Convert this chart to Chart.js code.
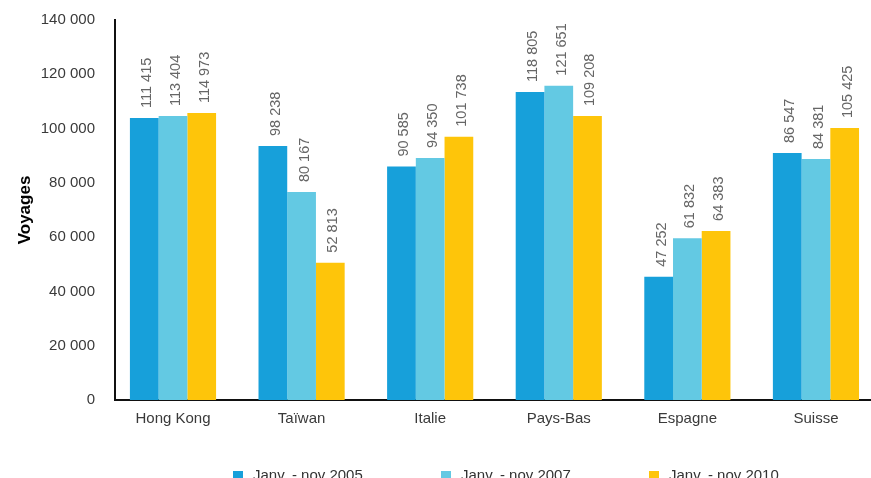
<!DOCTYPE html>
<html>
<head>
<meta charset="utf-8">
<script src="https://cdn.jsdelivr.net/npm/chart.js@4"></script>
<style>
  body { margin: 0; background: #fff; overflow: hidden; }
</style>
</head>
<body>
<canvas id="myChart" width="871" height="478"></canvas>
<script>
'use strict';

// pays
let countries = ['Hong Kong', 'Taïwan', 'Italie', 'Pays-Bas', 'Espagne', 'Suisse'];

// hauteur des barres
let bars2005 = [103900, 93600, 86000, 113500, 45400, 91000];
let bars2007 = [104600, 76600, 89200, 115800, 59600, 88800];
let bars2010 = [105700, 50600, 97000, 104600, 62300, 100200];

// valeurs affichées au-dessus des barres
let labels2005 = [111415, 98238, 90585, 118805, 47252, 86547];
let labels2007 = [113404, 80167, 94350, 121651, 61832, 84381];
let labels2010 = [114973, 52813, 101738, 109208, 64383, 105425];

let seriesNames = ['Janv. - nov 2005', 'Janv. - nov 2007', 'Janv. - nov 2010'];
let seriesColors = ['#17a0da', '#63c9e3', '#fec50a'];

let yTicks = [0, 20000, 40000, 60000, 80000, 100000, 120000, 140000];

let allLabels = [labels2005, labels2007, labels2010];

function spaced(n) {
  return n.toString().replace(/\B(?=(\d{3})+(?!\d))/g, ' ');
}

const font = '"Liberation Sans", Arial, sans-serif';

// chiffres verticaux au-dessus des barres
const valueLabels = {
  id: 'valueLabels',
  afterDatasetsDraw(chart) {
    let ctx = chart.ctx;
    ctx.save();
    ctx.font = '14.5px ' + font;
    ctx.fillStyle = '#666';
    ctx.textAlign = 'left';
    ctx.textBaseline = 'middle';
    chart.data.datasets.forEach((ds, d) => {
      let meta = chart.getDatasetMeta(d);
      meta.data.forEach((bar, i) => {
        ctx.save();
        ctx.translate(bar.x + 3, bar.y - 10);
        ctx.rotate(-Math.PI / 2);
        ctx.fillText(spaced(allLabels[d][i]), 0, 0);
        ctx.restore();
      });
    });
    ctx.restore();
  }
};

// légende en bas (coupée par le bord de l'image)
const bottomLegend = {
  id: 'bottomLegend',
  afterDraw(chart) {
    let ctx = chart.ctx;
    ctx.save();
    ctx.font = '15px ' + font;
    ctx.textBaseline = 'middle';
    ctx.textAlign = 'left';
    chart.data.datasets.forEach((ds, d) => {
      let x = 233 + d * 208;
      ctx.fillStyle = ds.backgroundColor;
      ctx.fillRect(x, 471, 10, 10);
      ctx.fillStyle = '#333';
      ctx.fillText(ds.label, x + 20, 476);
    });
    ctx.restore();
  }
};

const data = {
  labels: countries,
  datasets: [
    { label: seriesNames[0], data: bars2005, backgroundColor: seriesColors[0] },
    { label: seriesNames[1], data: bars2007, backgroundColor: seriesColors[1] },
    { label: seriesNames[2], data: bars2010, backgroundColor: seriesColors[2] }
  ]
};

const config = {
  type: 'bar',
  data: data,
  options: {
    responsive: false,
    animation: false,
    layout: { padding: { top: 20, bottom: 40, left: 0, right: 0 } },
    datasets: {
      bar: { categoryPercentage: 0.67, barPercentage: 1.0, borderWidth: 0 }
    },
    plugins: {
      legend: { display: false },
      tooltip: { enabled: false }
    },
    scales: {
      x: {
        grid: { display: false, drawTicks: false },
        border: { display: true, color: '#111', width: 2 },
        ticks: { color: '#3a3a3a', padding: 10, font: { family: font, size: 15 } },
        afterBuildTicks(scale) {
          // groupes un peu décalés par rapport au bord gauche
          scale._startValue = -0.451;
          scale._valueRange = 5.879;
        }
      },
      y: {
        min: 0,
        max: 140000,
        afterBuildTicks(scale) {
          scale.ticks = yTicks.map(v => ({ value: v }));
        },
        afterFit(scale) {
          scale.width = 115;
        },
        grid: { display: false, drawTicks: true, tickLength: 20 },
        border: { display: true, color: '#111', width: 2 },
        ticks: {
          color: '#3a3a3a',
          padding: 0,
          font: { family: font, size: 15 },
          callback: v => spaced(v)
        },
        title: {
          display: true,
          text: 'Voyages',
          color: '#000',
          padding: { top: 15, bottom: 0 },
          font: { family: font, size: 17, weight: 'bold' }
        }
      }
    }
  },
  plugins: [valueLabels, bottomLegend]
};

const myChart = new Chart(document.getElementById('myChart'), config);
</script>
</body>
</html>
